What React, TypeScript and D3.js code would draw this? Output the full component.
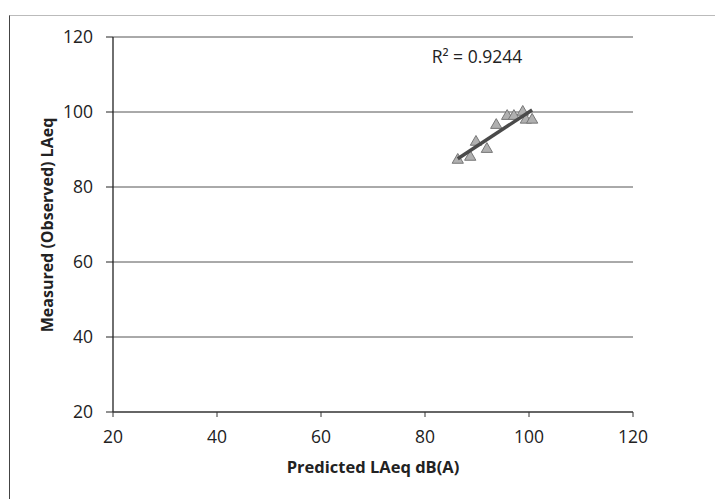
import * as d3 from "d3";

const predicted = [86.3, 88.7, 89.8, 91.9, 93.7, 95.8, 97.1, 98.8, 99.4, 100.6];
const measured = [87.2, 88.0, 92.0, 90.1, 96.5, 98.9, 98.9, 100.0, 97.9, 97.9];
const xTicks = [20, 40, 60, 80, 100, 120];
const yTicks = [20, 40, 60, 80, 100, 120];
const r2Label = "R² = 0.9244";
const xTitle = "Predicted LAeq dB(A)";
const yTitle = "Measured (Observed) LAeq";

const width = 715;
const height = 499;
const font = "'Open Sans', 'DejaVu Sans', sans-serif";

export default function App() {
  const x = d3.scaleLinear().domain([20, 120]).range([113, 633]);
  const y = d3.scaleLinear().domain([20, 120]).range([412, 37]);

  // least squares trendline over the data range
  const mx = d3.mean(predicted)!;
  const my = d3.mean(measured)!;
  const slope =
    d3.sum(predicted, (p, i) => (p - mx) * (measured[i] - my)) /
    d3.sum(predicted, (p) => (p - mx) ** 2);
  const icpt = my - slope * mx;
  const [x0, x1] = d3.extent(predicted) as [number, number];
  const trend = d3.line<number>()
    .x((d) => x(d))
    .y((d) => y(icpt + slope * d))([x0, x1]);

  const tri = d3.symbol(d3.symbolTriangle, 55)();

  return (
    <svg
      width={width}
      height={height}
      style={{ position: "absolute", left: 0, top: 0, background: "#fff" }}
      fontFamily={font}
    >
      {/* chart frame */}
      <line x1={9.5} y1={15} x2={9.5} y2={height} stroke="#444" strokeWidth={1} />
      <line x1={9.5} y1={15.5} x2={width} y2={15.5} stroke="#bbb" strokeWidth={1} />

      {/* gridlines */}
      {yTicks.slice(1).map((t) => (
        <line key={t} x1={x(20)} x2={x(120)} y1={y(t)} y2={y(t)} stroke="#555" strokeWidth={1} />
      ))}

      {/* axes */}
      <line x1={x(20)} x2={x(20)} y1={y(20)} y2={y(120)} stroke="#222" strokeWidth={1.3} />
      <line x1={x(20)} x2={x(120)} y1={y(20)} y2={y(20)} stroke="#333" strokeWidth={1.3} />
      {yTicks.map((t) => (
        <g key={t}>
          <line x1={x(20) - 7} x2={x(20)} y1={y(t)} y2={y(t)} stroke="#222" />
          <text x={93} y={y(t)} dy="0.36em" textAnchor="end" fontSize={17.5} fill="#222">
            {t}
          </text>
        </g>
      ))}
      {xTicks.map((t) => (
        <g key={t}>
          <line x1={x(t)} x2={x(t)} y1={y(20)} y2={y(20) + 5} stroke="#333" />
          <text x={x(t)} y={y(20) + 31} textAnchor="middle" fontSize={17.5} fill="#222">
            {t}
          </text>
        </g>
      ))}

      {/* points */}
      {predicted.map((p, i) => (
        <path
          key={i}
          d={tri!}
          transform={`translate(${x(p)},${y(measured[i])})`}
          fill="#b0b0b0"
          stroke="#777"
          strokeWidth={1}
        />
      ))}
      <path d={trend!} stroke="#4a4a4a" strokeWidth={3.5} fill="none" />

      <text x={477} y={63} textAnchor="middle" fontSize={17.5} fill="#222">
        {r2Label}
      </text>

      <text x={373} y={473} textAnchor="middle" fontSize={16.5} fontWeight="bold" fill="#222">
        {xTitle}
      </text>
      <text
        transform={`translate(53,225) rotate(-90)`}
        textAnchor="middle"
        fontSize={16}
        fontWeight="bold"
        fill="#222"
      >
        {yTitle}
      </text>
    </svg>
  );
}
